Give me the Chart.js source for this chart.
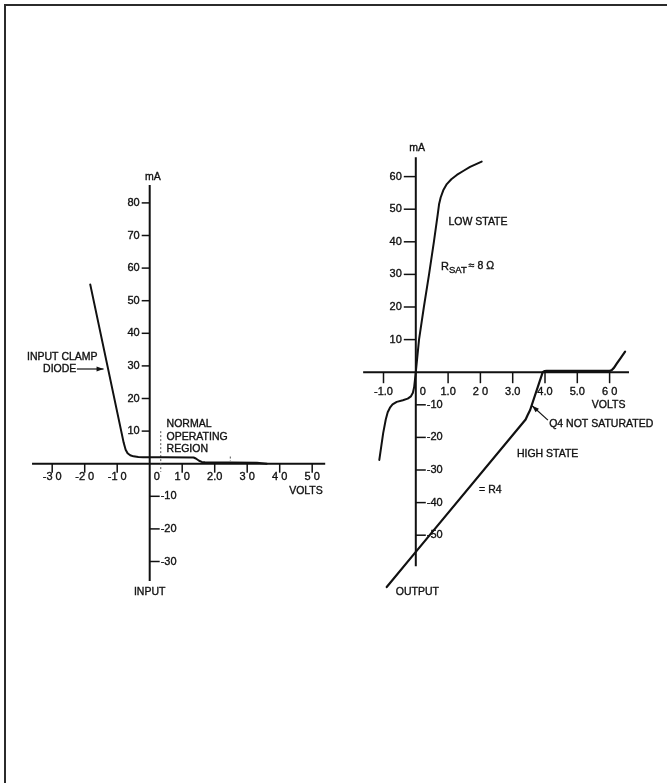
<!DOCTYPE html>
<html>
<head>
<meta charset="utf-8">
<title>Input and output characteristics</title>
<script src="https://cdn.jsdelivr.net/npm/chart.js@4.4.1/dist/chart.umd.min.js"></script>
<style>
  html, body { margin: 0; padding: 0; background: #fff; overflow: hidden; }
  #sheet { position: relative; width: 667px; height: 783px; }
  #frame { position: absolute; left: 4px; top: 4px; width: 700px; height: 800px;
           border-left: 2px solid #2b2b2b; border-top: 2px solid #2b2b2b; }
  #chart { position: absolute; left: 0; top: 0; }
</style>
</head>
<body>
<div id="sheet">
  <div id="frame"></div>
  <canvas id="chart" width="667" height="783"></canvas>
</div>
<script>
// input curve (volts, mA)
var inputV = [-1.83, -1.3, -0.8, -0.74, -0.68, -0.6, -0.5, -0.35, -0.2, 0.5, 1.35, 1.42, 1.52, 1.6, 1.7, 2.5, 3.3, 3.6];
var inputI = [55, 30, 6.4, 4.3, 3.2, 2.6, 2.25, 2.05, 2.0, 2.0, 1.9, 1.6, 0.9, 0.55, 0.45, 0.4, 0.3, 0];

// normal operating region marker
var normalV = [0.34, 0.34];
var normalI = [10, -2.5];
var markV = [2.48, 2.48];
var markI = [2.2, 0.8];

// output, low state
var lowV = [-1.13, -1.01, -0.93, -0.87, -0.8, -0.72, -0.59, -0.4, -0.25, -0.15, -0.09, -0.05, 0, 0.1, 0.25, 0.41, 0.56, 0.68, 0.72, 0.77, 0.85, 0.96, 1.1, 1.27, 1.48, 1.68, 2.04];
var lowI = [-26.9, -18.7, -14.5, -12.3, -10.9, -9.9, -9.1, -8.6, -8.1, -7.4, -6.3, -4.5, 0, 10, 20, 30, 40, 48.5, 51.5, 53.6, 55.8, 57.7, 59.2, 60.5, 61.8, 63, 64.6];

// output, high state
var highV = [-0.9, 0, 3.4, 3.46, 3.54, 3.93, 3.98, 4.05, 6.0, 6.07, 6.14, 6.22, 6.33, 6.48];
var highI = [-65.9, -55.1, -14.5, -13.2, -11.6, 0, 0.35, 0.4, 0.4, 0.7, 1.4, 2.6, 4.2, 6.3];

// tick values and their printed labels
var inXTicks = [-3, -2, -1, 0, 1, 2, 3, 4, 5];
var inXLabels = ['-3 0', '-2 0', '-1 0', '0', '1 0', '2.0', '3 0', '4 0', '5 0'];
var inYTicks = [80, 70, 60, 50, 40, 30, 20, 10, -10, -20, -30];

var outXTicks = [-1, 0, 1, 2, 3, 4, 5, 6];
var outXLabels = ['-1.0', '0', '1.0', '2 0', '3.0', '4.0', '5.0', '6 0'];
var outYTicks = [60, 50, 40, 30, 20, 10, -10, -20, -30, -40, -50];

var W = 667, H = 783;
var ink = '#111';
var labelFont = '11px "Liberation Sans", Arial, sans-serif';
var noteFont = '10.5px "Liberation Sans", Arial, sans-serif';

// origin pixel and pixels per unit for each pair of axes
var axes = [
  { x: 'xIn', y: 'yIn', ox: 149.7, oy: 463.7, kx: 32.5, ky: 3.26,
    xSpan: [-3.62, 5.4], ySpan: [-36, 85.5],
    xTicks: inXTicks, xLabels: inXLabels, yTicks: inYTicks,
    xTickLen: 9, xLabelGap: 13, yTickPos: 8, yTickNeg: 10 },
  { x: 'xOut', y: 'yOut', ox: 415.8, oy: 372.2, kx: 32.3, ky: 3.26,
    xSpan: [-1.63, 6.6], ySpan: [-59.5, 65.9],
    xTicks: outXTicks, xLabels: outXLabels, yTicks: outYTicks,
    xTickLen: 11, xLabelGap: 20, yTickPos: 12, yTickNeg: 10 }
];

// text notes: [text, volts, mA, align]
var inNotes = [
  ['mA', 0.1, 87.9, 'center'],
  ['INPUT CLAMP', -3.775, 32.7, 'left'],
  ['DIODE', -3.28, 29.0, 'left'],
  ['NORMAL', 0.52, 12.2, 'left'],
  ['OPERATING', 0.52, 8.2, 'left'],
  ['REGION', 0.52, 4.5, 'left'],
  ['VOLTS', 4.29, -8.4, 'left'],
  ['INPUT', 0.0, -39.3, 'center']
];
var outNotes = [
  ['mA', 0.04, 68.7, 'center'],
  ['LOW STATE', 1.01, 46.0, 'left'],
  ['VOLTS', 5.45, -10.1, 'left'],
  ['Q4 NOT SATURATED', 4.13, -15.9, 'left'],
  ['HIGH STATE', 3.13, -25.2, 'left'],
  ['= R4', 1.96, -36.3, 'left'],
  ['OUTPUT', 0.05, -67.6, 'center']
];

function toPoints(xs, ys) {
  var pts = [];
  for (var i = 0; i < xs.length; i++) pts.push({ x: xs[i], y: ys[i] });
  return pts;
}

function curve(xs, ys, xID, yID, width) {
  return {
    data: toPoints(xs, ys), xAxisID: xID, yAxisID: yID, showLine: true,
    borderColor: ink, borderWidth: width || 2, pointRadius: 0,
    borderJoinStyle: 'round', borderCapStyle: 'round', tension: 0, fill: false
  };
}

function dotted(xs, ys, xID, yID) {
  return {
    data: toPoints(xs, ys), xAxisID: xID, yAxisID: yID, showLine: true,
    borderColor: '#555', borderWidth: 1, borderDash: [2, 2], pointRadius: 0
  };
}

var scales = {};
axes.forEach(function(a) {
  scales[a.x] = { type: 'linear', axis: 'x', position: 'bottom', display: false,
                  min: -a.ox / a.kx, max: (W - a.ox) / a.kx };
  scales[a.y] = { type: 'linear', axis: 'y', position: 'left', display: false,
                  min: (a.oy - H) / a.ky, max: a.oy / a.ky };
});

// printed lettering is a little heavier than plain canvas text
function ink_text(ctx, s, x, y) {
  ctx.fillText(s, x, y);
  ctx.save();
  ctx.lineWidth = 0.35;
  ctx.strokeText(s, x, y);
  ctx.restore();
}

function arrow(ctx, x1, y1, x2, y2) {
  var ang = Math.atan2(y2 - y1, x2 - x1);
  ctx.beginPath();
  ctx.moveTo(x1, y1);
  ctx.lineTo(x2, y2);
  ctx.stroke();
  ctx.beginPath();
  ctx.moveTo(x2, y2);
  ctx.lineTo(x2 - 7 * Math.cos(ang) + 2.5 * Math.sin(ang), y2 - 7 * Math.sin(ang) - 2.5 * Math.cos(ang));
  ctx.lineTo(x2 - 7 * Math.cos(ang) - 2.5 * Math.sin(ang), y2 - 7 * Math.sin(ang) + 2.5 * Math.cos(ang));
  ctx.closePath();
  ctx.fill();
}

var crossAxes = {
  id: 'crossAxes',
  beforeDatasetsDraw: function(chart) {
    var ctx = chart.ctx;
    axes.forEach(function(a) {
      var sx = chart.scales[a.x], sy = chart.scales[a.y];
      var x0 = sx.getPixelForValue(0), y0 = sy.getPixelForValue(0);
      ctx.save();
      ctx.strokeStyle = ink;
      ctx.fillStyle = ink;
      ctx.lineWidth = 2;
      ctx.beginPath();
      ctx.moveTo(sx.getPixelForValue(a.xSpan[0]), y0);
      ctx.lineTo(sx.getPixelForValue(a.xSpan[1]), y0);
      ctx.moveTo(x0, sy.getPixelForValue(a.ySpan[0]));
      ctx.lineTo(x0, sy.getPixelForValue(a.ySpan[1]));
      ctx.stroke();

      ctx.lineWidth = 1.5;
      ctx.font = labelFont;
      ctx.textBaseline = 'middle';
      // volts ticks hang below the axis
      for (var i = 0; i < a.xTicks.length; i++) {
        var px = sx.getPixelForValue(a.xTicks[i]);
        ctx.textAlign = 'center';
        if (a.xTicks[i] === 0) {
          ink_text(ctx, a.xLabels[i], x0 + 7, y0 + a.xLabelGap);
          continue;
        }
        ctx.beginPath();
        ctx.moveTo(px, y0);
        ctx.lineTo(px, y0 + a.xTickLen);
        ctx.stroke();
        ink_text(ctx, a.xLabels[i], px, y0 + a.xLabelGap);
      }
      // mA ticks: positive on the left, negative on the right
      for (var j = 0; j < a.yTicks.length; j++) {
        var v = a.yTicks[j];
        var py = sy.getPixelForValue(v);
        ctx.beginPath();
        if (v > 0) {
          ctx.moveTo(x0, py);
          ctx.lineTo(x0 - a.yTickPos, py);
          ctx.stroke();
          ctx.textAlign = 'right';
          ink_text(ctx, String(v), x0 - a.yTickPos - 2, py);
        } else {
          ctx.moveTo(x0, py);
          ctx.lineTo(x0 + a.yTickNeg, py);
          ctx.stroke();
          ctx.textAlign = 'left';
          ink_text(ctx, String(v), x0 + a.yTickNeg + 1, py);
        }
      }
      ctx.restore();
    });
  },
  afterDatasetsDraw: function(chart) {
    var ctx = chart.ctx;
    var sets = [[axes[0], inNotes], [axes[1], outNotes]];
    ctx.save();
    ctx.fillStyle = ink;
    ctx.strokeStyle = ink;
    ctx.textBaseline = 'middle';
    ctx.font = noteFont;
    sets.forEach(function(s) {
      var sx = chart.scales[s[0].x], sy = chart.scales[s[0].y];
      s[1].forEach(function(n) {
        ctx.textAlign = n[3];
        ink_text(ctx, n[0], sx.getPixelForValue(n[1]), sy.getPixelForValue(n[2]));
      });
    });

    // R-sat note with subscript
    var ox = chart.scales.xOut, oy = chart.scales.yOut;
    var rx = ox.getPixelForValue(0.78), ry = oy.getPixelForValue(32.4);
    ctx.textAlign = 'left';
    ctx.font = '11px "Liberation Sans", Arial, sans-serif';
    ink_text(ctx, 'R', rx, ry);
    rx += ctx.measureText('R').width;
    ctx.font = '9.5px "Liberation Sans", Arial, sans-serif';
    ink_text(ctx, 'SAT', rx, ry + 3.5);
    rx += ctx.measureText('SAT').width + 2;
    ctx.font = noteFont;
    ink_text(ctx, '\u2248 8 \u03A9', rx, ry);

    // leader arrows
    ctx.lineWidth = 1.2;
    var ix = chart.scales.xIn, iy = chart.scales.yIn;
    arrow(ctx, ix.getPixelForValue(-2.24), iy.getPixelForValue(29.05),
               ix.getPixelForValue(-1.42), iy.getPixelForValue(29.05));
    arrow(ctx, ox.getPixelForValue(4.09), oy.getPixelForValue(-14.7),
               ox.getPixelForValue(3.6), oy.getPixelForValue(-10.3));
    ctx.restore();
  }
};

new Chart(document.getElementById('chart'), {
  type: 'scatter',
  data: {
    datasets: [
      curve(inputV, inputI, 'xIn', 'yIn'),
      dotted(normalV, normalI, 'xIn', 'yIn'),
      dotted(markV, markI, 'xIn', 'yIn'),
      curve(lowV, lowI, 'xOut', 'yOut'),
      curve(highV, highI, 'xOut', 'yOut', 2.2)
    ]
  },
  options: {
    responsive: false,
    animation: false,
    events: [],
    layout: { padding: 0 },
    scales: scales,
    plugins: { legend: { display: false }, tooltip: { enabled: false } }
  },
  plugins: [crossAxes]
});
</script>
</body>
</html>
